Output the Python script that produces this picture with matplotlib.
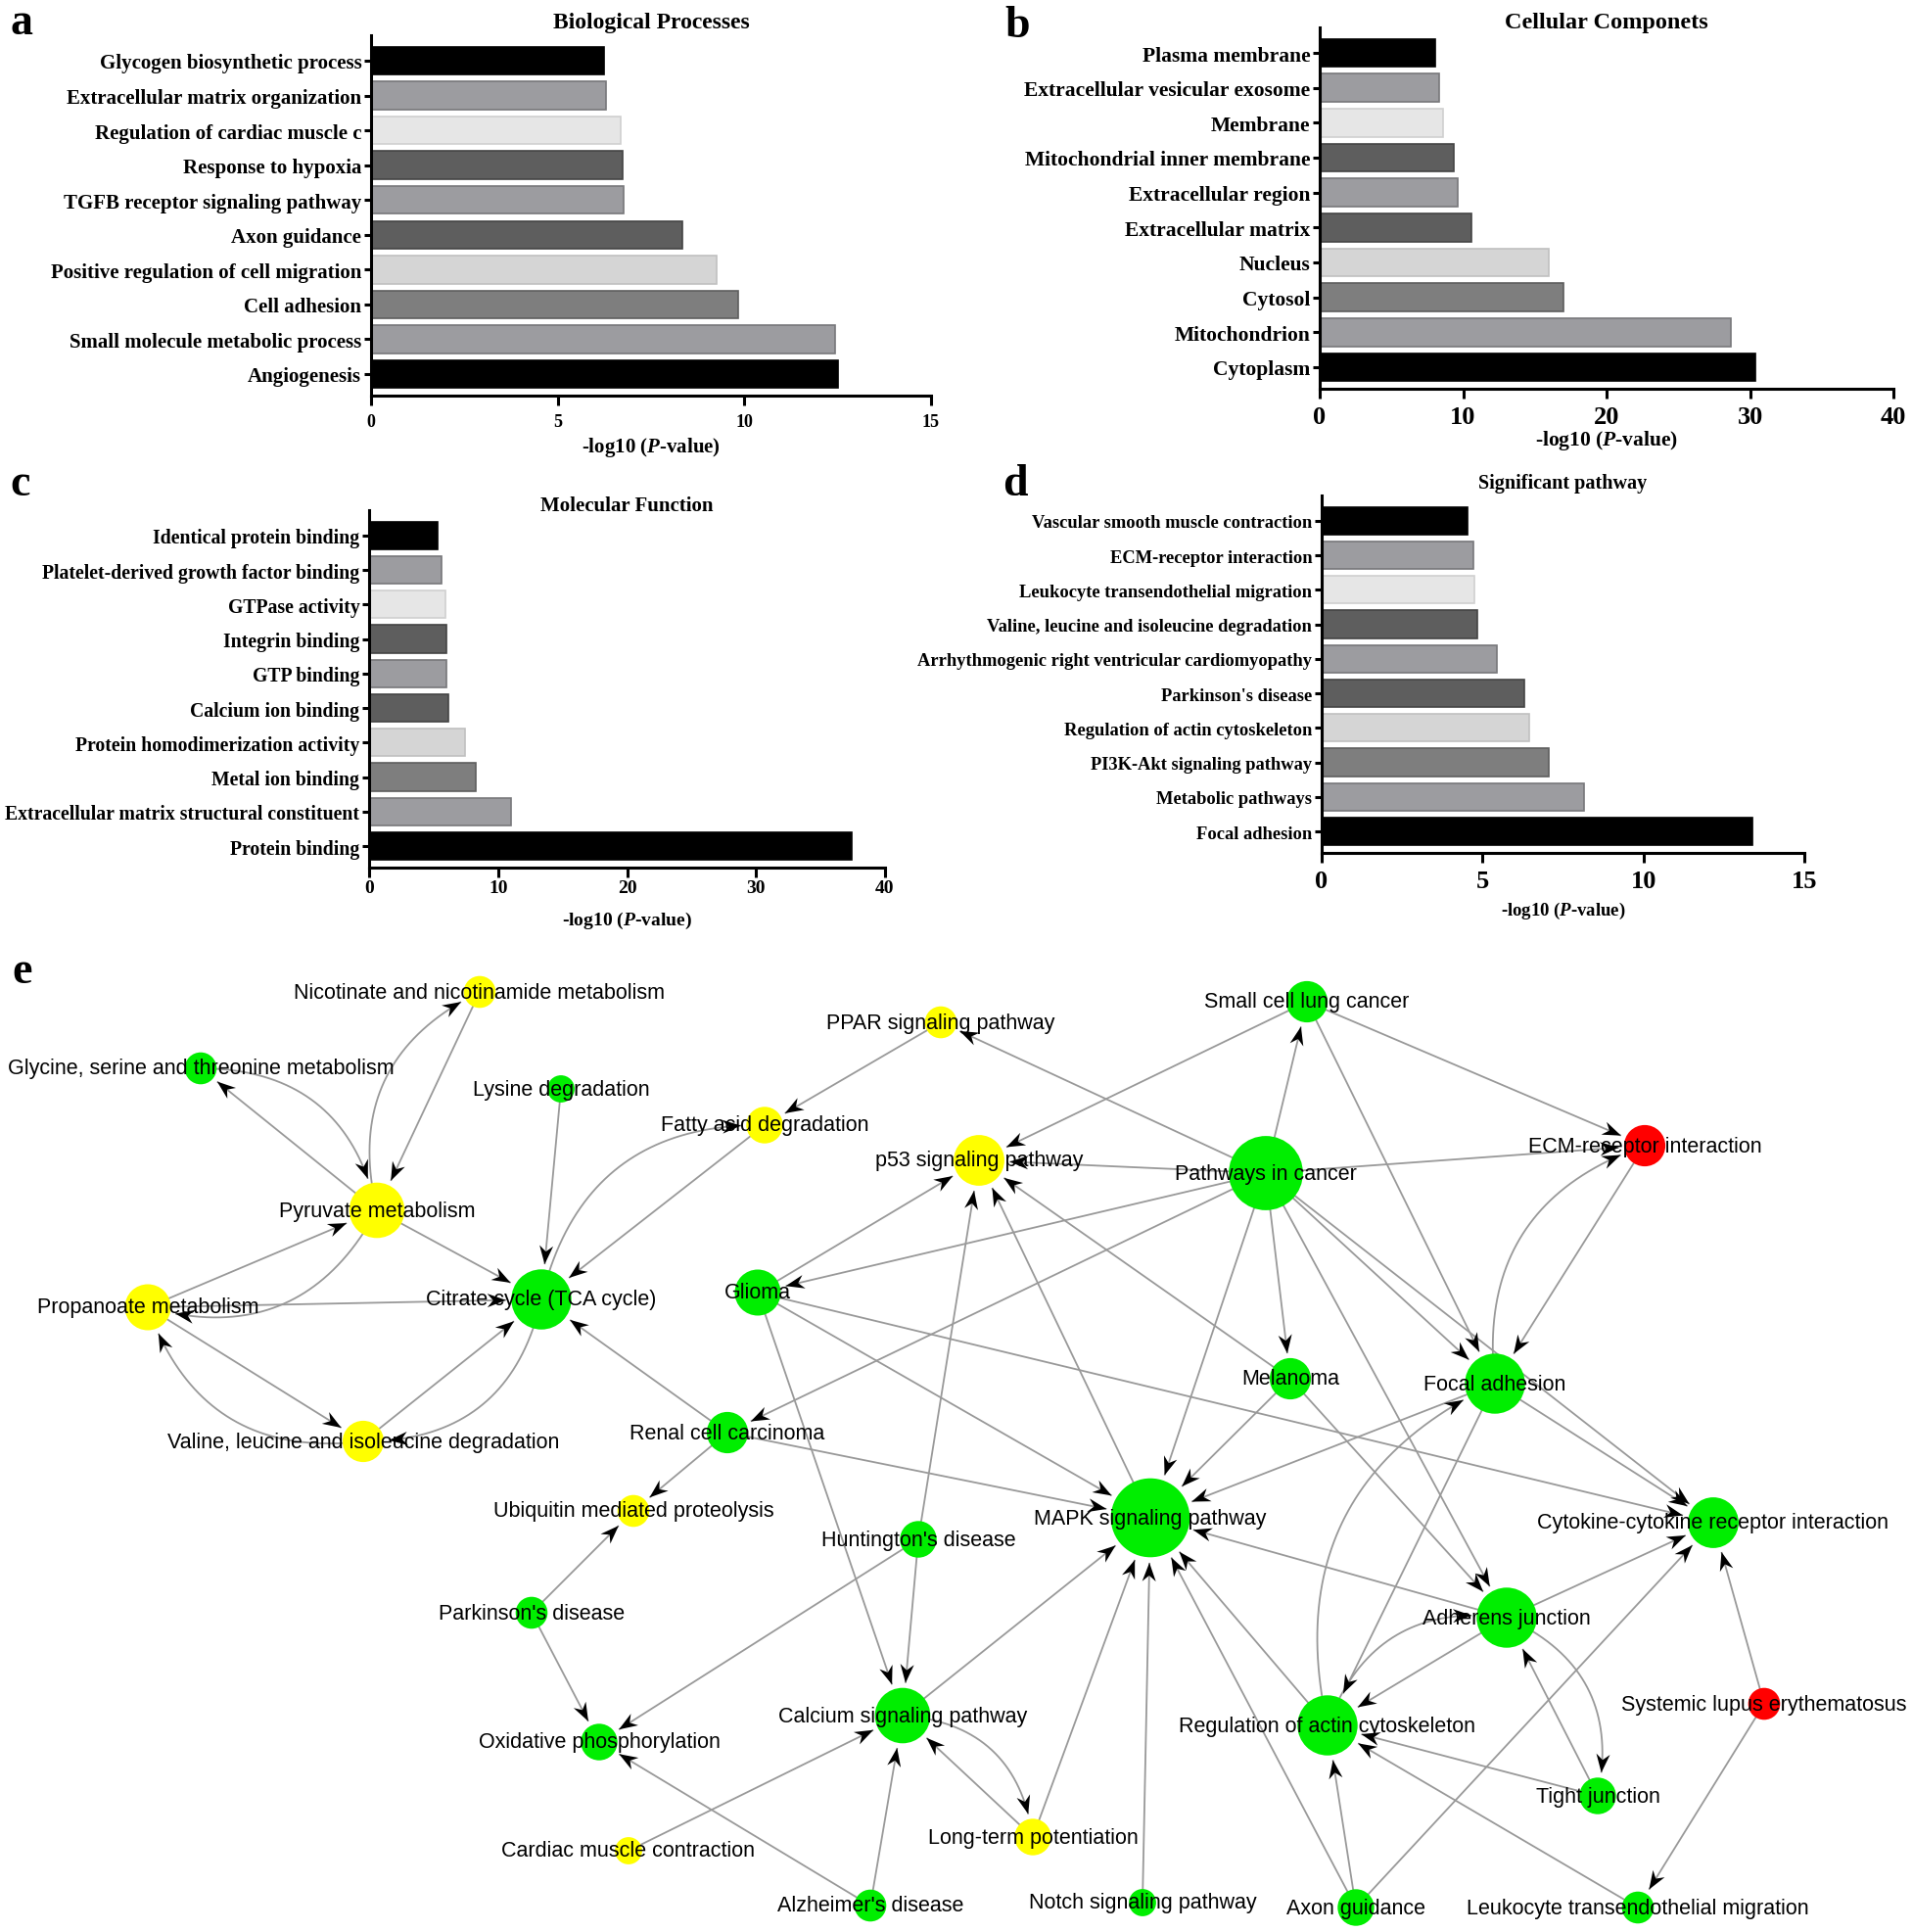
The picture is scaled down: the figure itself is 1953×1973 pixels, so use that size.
import numpy as np
import matplotlib
matplotlib.use('Agg')
import matplotlib.pyplot as plt
from matplotlib.patches import Circle, Polygon

plt.rcParams['mathtext.fontset'] = 'custom'
plt.rcParams['mathtext.rm'] = 'Liberation Serif:bold'
plt.rcParams['mathtext.it'] = 'Liberation Serif:italic:bold'
plt.rcParams['mathtext.bf'] = 'Liberation Serif:bold'

SERIF = 'Liberation Serif'
SANS = 'Liberation Sans'

# GO / KEGG enrichment, -log10(P)
bp_terms = ['Glycogen biosynthetic process', 'Extracellular matrix organization',
            'Regulation of cardiac muscle c', 'Response to hypoxia',
            'TGFB receptor signaling pathway', 'Axon guidance',
            'Positive regulation of cell migration', 'Cell adhesion',
            'Small molecule metabolic process', 'Angiogenesis']
bp_vals = [6.24, 6.29, 6.68, 6.73, 6.76, 8.33, 9.27, 9.83, 12.43, 12.52]

cc_terms = ['Plasma membrane', 'Extracellular vesicular exosome', 'Membrane',
            'Mitochondrial inner membrane', 'Extracellular region',
            'Extracellular matrix', 'Nucleus', 'Cytosol', 'Mitochondrion', 'Cytoplasm']
cc_vals = [8.05, 8.35, 8.6, 9.37, 9.6, 10.58, 15.97, 16.99, 28.67, 30.4]

mf_terms = ['Identical protein binding', 'Platelet-derived growth factor binding',
            'GTPase activity', 'Integrin binding', 'GTP binding', 'Calcium ion binding',
            'Protein homodimerization activity', 'Metal ion binding',
            'Extracellular matrix structural constituent', 'Protein binding']
mf_vals = [5.31, 5.58, 5.93, 5.97, 5.97, 6.12, 7.45, 8.3, 11.0, 37.44]

kegg_terms = ['Vascular smooth muscle contraction', 'ECM-receptor interaction',
              'Leukocyte transendothelial migration',
              'Valine, leucine and isoleucine degradation',
              'Arrhythmogenic right ventricular cardiomyopathy', "Parkinson's disease",
              'Regulation of actin cytoskeleton', 'PI3K-Akt signaling pathway',
              'Metabolic pathways', 'Focal adhesion']
kegg_vals = [4.52, 4.71, 4.76, 4.85, 5.46, 6.31, 6.44, 7.05, 8.14, 13.38]

# pathway network (e): nodes, class (y = yellow, g = green, r = red), layout
node_ids = ['NIC', 'GLY', 'LYS', 'PPAR', 'FAD', 'P53', 'PYR', 'PROP', 'TCA', 'VAL',
            'GLIO', 'RCC', 'UBI', 'PARK', 'OX', 'CARD', 'ALZ', 'HUNT', 'CALC', 'LTP',
            'NOTCH', 'MAPK', 'PIC', 'SCLC', 'ECM', 'MEL', 'FA', 'CYTO', 'AJ', 'SLE',
            'ACT', 'TJ', 'AXON', 'LTM']
node_labels = ['Nicotinate and nicotinamide metabolism', 'Glycine, serine and threonine metabolism',
               'Lysine degradation', 'PPAR signaling pathway', 'Fatty acid degradation',
               'p53 signaling pathway', 'Pyruvate metabolism', 'Propanoate metabolism',
               'Citrate cycle (TCA cycle)', 'Valine, leucine and isoleucine degradation',
               'Glioma', 'Renal cell carcinoma', 'Ubiquitin mediated proteolysis',
               "Parkinson's disease", 'Oxidative phosphorylation', 'Cardiac muscle contraction',
               "Alzheimer's disease", "Huntington's disease", 'Calcium signaling pathway',
               'Long-term potentiation', 'Notch signaling pathway', 'MAPK signaling pathway',
               'Pathways in cancer', 'Small cell lung cancer', 'ECM-receptor interaction',
               'Melanoma', 'Focal adhesion', 'Cytokine-cytokine receptor interaction',
               'Adherens junction', 'Systemic lupus erythematosus',
               'Regulation of actin cytoskeleton', 'Tight junction', 'Axon guidance',
               'Leukocyte transendothelial migration']
node_class = ['y', 'g', 'g', 'y', 'y', 'y', 'y', 'y', 'g', 'y',
              'g', 'g', 'y', 'g', 'g', 'y', 'g', 'g', 'g', 'y',
              'g', 'g', 'g', 'g', 'r', 'g', 'g', 'g', 'g', 'r',
              'g', 'g', 'g', 'g']
layout_x = [490, 205, 573, 961, 781, 1000, 385, 151, 553, 371,
            774, 743, 647, 543, 612, 642, 889, 938, 922, 1055,
            1167, 1175, 1293, 1335, 1680, 1318, 1527, 1750, 1539, 1802,
            1356, 1632, 1385, 1673]
layout_y = [1014, 1092, 1113, 1045, 1150, 1186, 1237, 1336, 1328, 1473,
            1321, 1464, 1544, 1648, 1780, 1891, 1947, 1573, 1753, 1877,
            1944, 1551, 1199, 1024, 1171, 1409, 1414, 1556, 1653, 1741,
            1763, 1835, 1949, 1949]

# (source, target, drawn curved)
edges = [('PYR', 'NIC', 1), ('NIC', 'PYR', 0), ('PYR', 'GLY', 0), ('GLY', 'PYR', 1),
         ('PROP', 'PYR', 0), ('PYR', 'PROP', 1), ('PROP', 'TCA', 0), ('PYR', 'TCA', 0),
         ('LYS', 'TCA', 0), ('FAD', 'TCA', 0), ('TCA', 'FAD', 1), ('PPAR', 'FAD', 0),
         ('PROP', 'VAL', 0), ('VAL', 'PROP', 1), ('VAL', 'TCA', 0), ('TCA', 'VAL', 1),
         ('RCC', 'TCA', 0), ('RCC', 'UBI', 0), ('PARK', 'UBI', 0), ('PARK', 'OX', 0),
         ('HUNT', 'OX', 0), ('ALZ', 'OX', 0), ('CARD', 'CALC', 0), ('ALZ', 'CALC', 0),
         ('HUNT', 'CALC', 0), ('GLIO', 'CALC', 0), ('CALC', 'LTP', 1), ('LTP', 'CALC', 0),
         ('LTP', 'MAPK', 0), ('CALC', 'MAPK', 0), ('NOTCH', 'MAPK', 0),
         ('SCLC', 'P53', 0), ('PIC', 'P53', 0), ('GLIO', 'P53', 0), ('HUNT', 'P53', 0),
         ('MAPK', 'P53', 0), ('MEL', 'P53', 0), ('PIC', 'PPAR', 0), ('PIC', 'GLIO', 0),
         ('PIC', 'RCC', 0), ('GLIO', 'MAPK', 0), ('RCC', 'MAPK', 0), ('GLIO', 'CYTO', 0),
         ('PIC', 'MAPK', 0), ('MEL', 'MAPK', 0), ('FA', 'MAPK', 0), ('AJ', 'MAPK', 0),
         ('AXON', 'MAPK', 0), ('ACT', 'MAPK', 0), ('PIC', 'SCLC', 0), ('SCLC', 'ECM', 0),
         ('SCLC', 'FA', 0), ('PIC', 'ECM', 0), ('PIC', 'MEL', 0), ('PIC', 'FA', 0),
         ('PIC', 'CYTO', 0), ('PIC', 'AJ', 0), ('MEL', 'AJ', 0), ('FA', 'ECM', 1),
         ('ECM', 'FA', 0), ('FA', 'CYTO', 0), ('ACT', 'FA', 1), ('FA', 'ACT', 0),
         ('AJ', 'ACT', 0), ('ACT', 'AJ', 1), ('AJ', 'CYTO', 0), ('AJ', 'TJ', 1),
         ('TJ', 'AJ', 0), ('TJ', 'ACT', 0), ('LTM', 'ACT', 0), ('AXON', 'ACT', 0),
         ('AXON', 'CYTO', 0), ('SLE', 'CYTO', 0), ('SLE', 'LTM', 0)]

W, H = 1953, 1974
fig = plt.figure(figsize=(W / 100, H / 100), dpi=100)

bar_colors = ['#000000', '#9c9ca0', '#e6e6e6', '#5e5e5e', '#9c9ca0',
              '#5e5e5e', '#d5d5d5', '#7e7e7e', '#9c9ca0', '#000000']
edge_colors = ['#000000', '#77777a', '#d0d0d0', '#444444', '#77777a',
               '#444444', '#c0c0c0', '#5e5e5e', '#77777a', '#000000']


def px_rect(l, t, r, b):
    return [l / W, 1 - b / H, (r - l) / W, (b - t) / H]


def bar_panel(box, terms, vals, xmax, step, title, title_y, title_size,
              label_size, tick_size, tick_pad, xlabel_y, xlabel_size):
    ax = fig.add_axes(px_rect(*box))
    y = np.arange(len(terms))
    ax.barh(y, vals, height=0.8, color=bar_colors, edgecolor=edge_colors, linewidth=1.2)
    ax.set_ylim(len(terms) - 1 + 0.62, -0.73)
    ax.set_xlim(0, xmax)
    ax.set_xticks(np.arange(0, xmax + 1, step))
    ax.set_yticks(y)
    ax.set_yticklabels(terms, fontsize=label_size, fontweight='bold', family=SERIF)
    for lab in ax.get_xticklabels():
        lab.set_fontsize(tick_size)
        lab.set_fontweight('bold')
        lab.set_family(SERIF)
    for s in ['top', 'right']:
        ax.spines[s].set_visible(False)
    for s in ['left', 'bottom']:
        ax.spines[s].set_linewidth(2.2)
    ax.tick_params(axis='y', length=5, width=2.2, pad=2)
    ax.tick_params(axis='x', length=7, width=2.2, pad=tick_pad)
    cx = (box[0] + box[2]) / 2 / W
    fig.text(cx, 1 - title_y / H, title, ha='center', va='center',
             fontsize=title_size, fontweight='bold', family=SERIF)
    fig.text(cx, 1 - xlabel_y / H, r'-log10 ($\mathit{P}$-value)', ha='center',
             va='center', fontsize=xlabel_size, fontweight='bold', family=SERIF)
    return ax


bar_panel((379, 37, 951, 405), bp_terms, bp_vals, 15, 5, 'Biological Processes', 23, 17,
          15, 13, 6, 457, 15)
bar_panel((1348, 29, 1934, 398), cc_terms, cc_vals, 40, 10, 'Cellular Componets', 24, 17.5,
          15.5, 19, 5, 450, 15.5)
bar_panel((377, 522, 904, 887), mf_terms, mf_vals, 40, 10, 'Molecular Function', 517, 15,
          14.2, 14, 2, 940, 14)
bar_panel((1350, 507, 1843, 872), kegg_terms, kegg_vals, 15, 5, 'Significant pathway', 494, 14.5,
          13.3, 19, 5, 930, 13.5)

for letter, x, yb in [('a', 10, 35), ('b', 1026, 38), ('c', 10, 506), ('d', 1024, 506), ('e', 12, 1004)]:
    fig.text(x / W, 1 - yb / H, letter, ha='left', va='baseline', fontsize=33,
             fontweight='bold', family=SERIF)

# ---- network panel ----
ax = fig.add_axes([0, 0, 1, 0.5])
ax.set_xlim(0, W)
ax.set_ylim(H, H * 0.5)
ax.axis('off')

pos = {k: np.array([x, y], float) for k, x, y in zip(node_ids, layout_x, layout_y)}
deg = {k: 0 for k in node_ids}
for s, t, c in edges:
    deg[s] += 1
    deg[t] += 1
rad = {k: (23 + 4.8 * deg[k]) / 2 for k in node_ids}
fill = {'y': '#ffff00', 'g': '#00ee00', 'r': '#ff0000'}

bend = -0.4
gap = 5
for s, t, curved in edges:
    p1, p2 = pos[s], pos[t]
    tt = np.linspace(0, 1, 600)[:, None]
    if curved:
        d = p2 - p1
        ctrl = (p1 + p2) / 2 + bend * np.array([-d[1], d[0]])
        pts = (1 - tt) ** 2 * p1 + 2 * (1 - tt) * tt * ctrl + tt ** 2 * p2
    else:
        pts = p1 + tt * (p2 - p1)
    dist = np.hypot(pts[:, 0] - p2[0], pts[:, 1] - p2[1])
    i = np.where(dist > rad[t] + gap)[0][-1]
    tip = pts[i]
    u = tip - pts[max(i - 4, 0)]
    u = u / np.hypot(*u)
    nv = np.array([-u[1], u[0]])
    ax.plot(pts[:i + 1, 0], pts[:i + 1, 1], color='#999999', lw=1.3, zorder=1,
            solid_capstyle='butt')
    L, hw, notch = 19, 7, 6
    head = [tip, tip - L * u + hw * nv, tip - (L - notch) * u, tip - L * u - hw * nv]
    ax.add_patch(Polygon(head, closed=True, fc='black', ec='none', zorder=2))

for k, lab, cl in zip(node_ids, node_labels, node_class):
    ax.add_patch(Circle(pos[k], rad[k], fc=fill[cl], ec='none', zorder=3))
    ax.text(pos[k][0], pos[k][1], lab, ha='center', va='center', fontsize=15.5,
            family=SANS, color='black', zorder=4)

fig.savefig('out.png', dpi=100)
